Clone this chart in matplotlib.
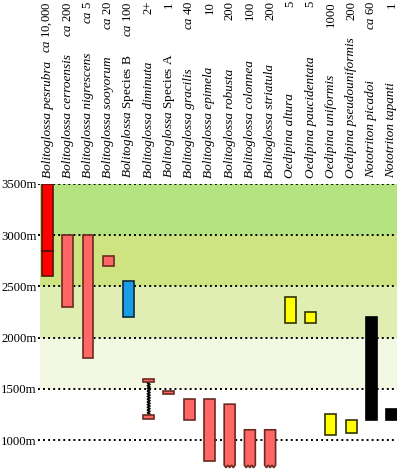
import numpy as np
import matplotlib.pyplot as plt
from matplotlib.patches import Rectangle, Polygon
from matplotlib.transforms import blended_transform_factory

plt.rcParams['font.family'] = 'Liberation Serif'
plt.rcParams['mathtext.fontset'] = 'custom'
plt.rcParams['mathtext.it'] = 'Liberation Serif:italic'
plt.rcParams['mathtext.rm'] = 'Liberation Serif'

# species, abundance, elevation range (m)
genus = ['Bolitoglossa'] * 12 + ['Oedipina'] * 4 + ['Nototriton'] * 2
epithet = ['pesrubra', 'cerroensis', 'nigrescens', 'sooyorum', 'Species B',
           'diminuta', 'Species A', 'gracilis', 'epimela', 'robusta',
           'colonnea', 'striatula', 'altura', 'paucidentata', 'uniformis',
           'pseudouniformis', 'picadoi', 'tapanti']
counts = ['ca 10,000', 'ca 200', 'ca 5', 'ca 20', 'ca 100', '2+', '1', 'ca 40',
          '10', '200', '100', '200', '5', '5', '1000', '200', 'ca 60', '1']
high = [3500, 3000, 3000, 2800, 2550, 1600, 1480, 1400, 1400, 1350, 1100, 1100,
        2400, 2250, 1250, 1200, 2200, 1300]
low = [2600, 2300, 1800, 2700, 2200, 1210, 1450, 1200, 800, 730, 730, 730,
       2140, 2140, 1050, 1070, 1200, 1200]
open_low = [False] * 9 + [True] * 3 + [False] * 6   # range continues below
colors = ['#ff0000', '#ff6666', '#ff6666', '#ff6666', '#1a9de8', '#ff6666',
          '#ff6666', '#ff6666', '#ff6666', '#ff6666', '#ff6666', '#ff6666',
          '#ffff00', '#ffff00', '#ffff00', '#ffff00', '#000000', '#000000']
edges = ['#5a1010', '#6a2a20', '#6a2a20', '#6a2a20', '#102838', '#6a2a20',
         '#6a2a20', '#6a2a20', '#6a2a20', '#6a2a20', '#6a2a20', '#6a2a20',
         '#333300', '#333300', '#333300', '#333300', '#000000', '#000000']
pesrubra_mark = 2850

zones = [(3000, 3500, '#b5e382'), (2500, 3000, '#cde480'),
         (2000, 2500, '#e0eeb4'), (1500, 2000, '#f3f8e2')]
yticks = [1000, 1500, 2000, 2500, 3000, 3500]

W, H = 400, 473
fig = plt.figure(figsize=(W / 100, H / 100), dpi=100)
ax = fig.add_axes([38 / W, 0, (397 - 38) / W, (H - 184) / H])
ax.set_xlim(-0.47, 17.27)
ax.set_ylim(678, 3500)
for s in ax.spines.values():
    s.set_visible(False)
ax.set_xticks([])
ax.set_yticks(yticks)
ax.set_yticklabels(['%dm' % v for v in yticks], fontsize=9.2)
ax.tick_params(axis='y', length=0, pad=1)

for lo, hi, c in zones:
    ax.add_patch(Rectangle((-0.37, lo), 17.64, hi - lo, color=c, lw=0, zorder=0))
for v in yticks:
    ax.plot([-0.47, 17.27], [v, v], color='black', lw=1.4,
            linestyle=(0, (1, 1.6)), zorder=1)

w = 0.27
for i in range(len(epithet)):
    lo, hi = low[i], high[i]
    kw = dict(facecolor=colors[i], edgecolor=edges[i], lw=1.2, zorder=3)
    if epithet[i] == 'diminuta':
        ax.add_patch(Rectangle((i - w, hi - 30), 2 * w, 30, **kw))
        ax.add_patch(Rectangle((i - w, lo), 2 * w, 30, **kw))
        ys = np.linspace(lo + 30, hi - 30, 26)
        xs = i + 0.06 * np.where(np.arange(len(ys)) % 2 == 0, -1, 1)
        xs[0] = xs[-1] = i
        ax.plot(xs, ys, color='black', lw=1.3, zorder=2)
    elif open_low[i]:
        nt = 3
        bx = np.linspace(i + w, i - w, 2 * nt + 1)
        by = lo + np.where(np.arange(2 * nt + 1) % 2 == 0, 25, 0)
        pts = [(i - w, hi), (i + w, hi)] + list(zip(bx, by))
        ax.add_patch(Polygon(pts, closed=True, **kw))
    else:
        ax.add_patch(Rectangle((i - w, lo), 2 * w, hi - lo, **kw))
    if epithet[i] == 'pesrubra':
        ax.plot([i - w, i + w], [pesrubra_mark] * 2, color=edges[i], lw=1.5, zorder=4)

# rotated column labels above the plot
tr = blended_transform_factory(ax.transData, fig.transFigure)
for i in range(len(epithet)):
    if epithet[i].startswith('Species'):
        name = r'$\mathit{%s}$ %s' % (genus[i], epithet[i])
        style = 'normal'
    else:
        name = '%s %s' % (genus[i], epithet[i])
        style = 'italic'
    ax.text(i, (H - 178) / H, name, transform=tr, rotation=90, ha='center',
            va='bottom', fontsize=9.5, fontstyle=style, clip_on=False)
    c = counts[i]
    if c.startswith('ca '):
        c = r'$\mathit{ca}$ ' + c[3:]
    ax.text(i, (H - 1) / H, c, transform=tr, rotation=90, ha='center',
            va='top', fontsize=9.2, clip_on=False)

fig.savefig('out.png', dpi=100)
